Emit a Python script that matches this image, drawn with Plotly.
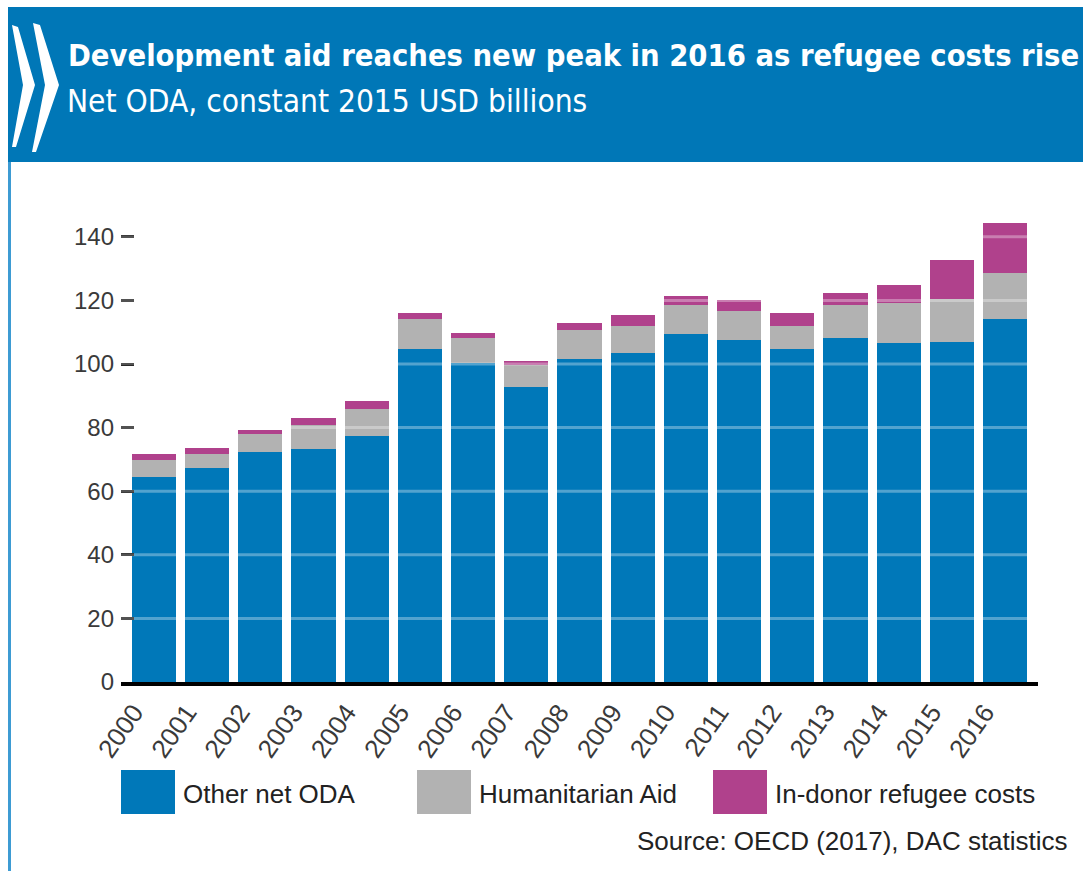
import plotly.graph_objects as go

# Net ODA by component, constant 2015 USD billions
years = [str(y) for y in range(2000, 2017)]
other_net_oda = [64.4, 67.2, 72.2, 73.3, 77.5, 104.8, 100.3, 92.7, 101.6, 103.5,
                 109.4, 107.7, 104.8, 108.3, 106.6, 106.8, 114.2]
humanitarian_aid = [5.5, 4.6, 5.7, 7.5, 8.4, 9.4, 7.8, 7.0, 9.1, 8.4,
                    9.0, 9.1, 7.3, 10.1, 12.5, 13.5, 14.5]
refugee_costs = [1.9, 1.9, 1.5, 2.1, 2.6, 1.9, 1.7, 1.4, 2.2, 3.4,
                 3.0, 3.3, 4.0, 4.0, 5.8, 12.3, 15.6]

series_names = ["Other net ODA", "Humanitarian Aid", "In-donor refugee costs"]
series_values = [other_net_oda, humanitarian_aid, refugee_costs]
series_colors = ["#0078b9", "#b2b2b2", "#b0418c"]

y_ticks = [0, 20, 40, 60, 80, 100, 120, 140]

W, H = 1083, 871
BANNER = "#0077b7"
HEAD_FONT = "DejaVu Sans Condensed, DejaVu Sans, sans-serif"
BODY_FONT = "Liberation Sans, Arial, sans-serif"
PLOT_LEFT, PLOT_RIGHT, PLOT_BOTTOM, PLOT_TOP = 121, 1038, 682, 205


def px(x):
    return x / W


def py(y):
    return 1 - y / H


fig = go.Figure()
for name, vals, col in zip(series_names, series_values, series_colors):
    fig.add_trace(go.Bar(x=years, y=vals, name=name, marker_color=col,
                         marker_line_width=0, showlegend=False))

shapes = []
# header banner and left rule
shapes.append(dict(type="rect", xref="paper", yref="paper",
                   x0=px(8), x1=px(1083), y0=py(162), y1=py(7),
                   fillcolor=BANNER, line_width=0, layer="below"))
shapes.append(dict(type="rect", xref="paper", yref="paper",
                   x0=px(8), x1=px(11), y0=py(871), y1=py(162),
                   fillcolor="#3d9bd3", line_width=0, layer="below"))


def chevron(pts):
    d = "M " + " L ".join(f"{px(x):.5f},{py(y):.5f}" for x, y in pts) + " Z"
    return dict(type="path", xref="paper", yref="paper", path=d,
                fillcolor="white", line_width=0)


shapes.append(chevron([(12, 25), (18, 27), (35, 85), (16, 147), (12, 147), (23, 85)]))
shapes.append(chevron([(33, 23), (40, 25), (59, 85), (36, 152), (32, 152), (45, 85)]))

# translucent white gridlines drawn over the bars
for v in y_ticks[1:]:
    shapes.append(dict(type="line", xref="paper", yref="y",
                       x0=px(PLOT_LEFT), x1=px(PLOT_RIGHT), y0=v, y1=v,
                       line=dict(color="rgba(255,255,255,0.32)", width=3),
                       layer="above"))

annotations = [
    dict(text="<b>Development aid reaches new peak in 2016 as refugee costs rise</b>",
         x=px(66), y=py(56), xref="paper", yref="paper", xanchor="left",
         yanchor="middle", showarrow=False,
         font=dict(family=HEAD_FONT, size=30.6, color="white")),
    dict(text="Net ODA, constant 2015 USD billions",
         x=px(65), y=py(101), xref="paper", yref="paper", xanchor="left",
         yanchor="middle", showarrow=False,
         font=dict(family=HEAD_FONT, size=31.4, color="white")),
    dict(text="Source: OECD (2017), DAC statistics",
         x=px(1070), y=py(841), xref="paper", yref="paper", xanchor="right",
         yanchor="middle", showarrow=False,
         font=dict(family=BODY_FONT, size=26, color="#222")),
]

# legend: colour boxes with labels underneath the chart
legend_box_x = [121, 417, 713]
for bx, name, col in zip(legend_box_x, series_names, series_colors):
    shapes.append(dict(type="rect", xref="paper", yref="paper",
                       x0=px(bx), x1=px(bx + 54), y0=py(814), y1=py(770),
                       fillcolor=col, line_width=0))
    annotations.append(dict(text=name, x=px(bx + 60), y=py(794), xref="paper",
                            yref="paper", xanchor="left", yanchor="middle",
                            showarrow=False,
                            font=dict(family=BODY_FONT, size=26, color="#222")))

fig.update_layout(
    width=W, height=H,
    margin=dict(l=0, r=0, t=0, b=0, autoexpand=False),
    paper_bgcolor="white", plot_bgcolor="white",
    barmode="stack", bargap=0.17,
    shapes=shapes, annotations=annotations,
    font=dict(family=BODY_FONT, color="#333"),
    xaxis=dict(domain=[px(PLOT_LEFT), px(PLOT_RIGHT)], range=[-0.62, 16.62],
               automargin=False,
               showline=True, linecolor="black", linewidth=3.5,
               ticks="", tickangle=-55, tickfont=dict(size=26, color="#3a3a3a"),
               ticklabelshift=-20, ticklabelstandoff=1,
               showgrid=False, layer="above traces"),
    yaxis=dict(domain=[py(PLOT_BOTTOM), py(PLOT_TOP)], range=[0, 150],
               automargin=False,
               tickvals=y_ticks, ticks="inside", ticklen=13, tickwidth=2.5,
               tickcolor="black", tickfont=dict(size=24, color="#3a3a3a"),
               ticklabelstandoff=6,
               showgrid=False, zeroline=False, showline=False,
               layer="above traces"),
)

fig.write_html("out.html")
